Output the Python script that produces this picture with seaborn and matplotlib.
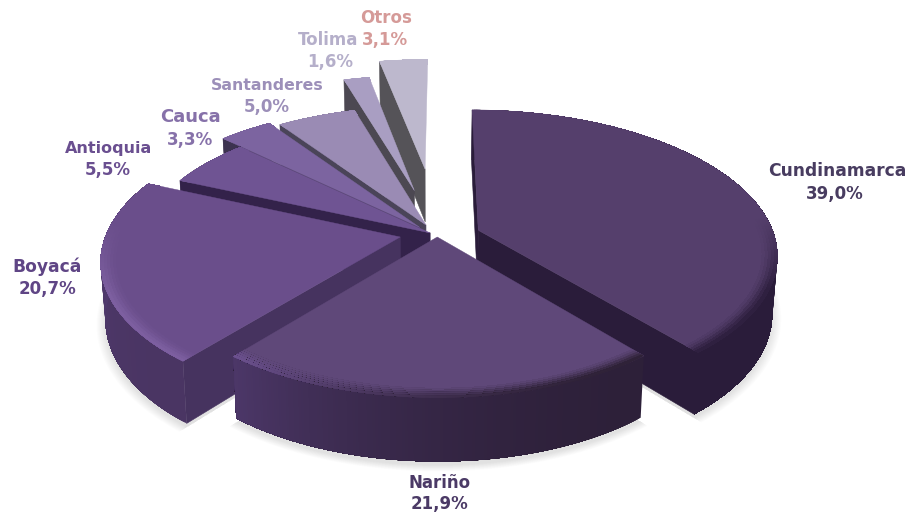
import numpy as np
import matplotlib
matplotlib.use("Agg")
import matplotlib.pyplot as plt
from matplotlib.colors import to_rgb
import seaborn as sns

# Share of each region, in percent, clockwise from twelve o'clock
regions = ["Cundinamarca", "Nariño", "Boyacá", "Antioquia", "Cauca", "Santanderes", "Tolima", "Otros"]
shares = [39.0, 21.9, 20.7, 5.5, 3.3, 5.0, 1.6, 3.1]

top_colors = ["#553f6c", "#5f4879", "#6a4e8b", "#6f5493", "#7c64a0", "#9a8bb4", "#a99ec2", "#bdb8cd"]
side_start = ["#2a1c3a", "#2d2039", "#4a3563", "#33224a", "#3d3350", "#4a4458", "#4c4852", "#555358"]
side_end = ["#2a1c3a", "#4c3768", "#573f7c", "#33224a", "#3d3350", "#4a4458", "#4c4852", "#555358"]
rim_start = ["#2f2040", "#2f2238", "#7d5fa0", "#7f63a5", "#8a73ad", "#a79ac0", "#b5abcc", "#c8c4d6"]
rim_end = ["#2f2040", "#6d5290", "#7d5fa0", "#7f63a5", "#8a73ad", "#a79ac0", "#b5abcc", "#c8c4d6"]
text_colors = ["#483c60", "#4b3a66", "#5f4585", "#6a4f90", "#8671a9", "#9c8fb9", "#b5afca", "#d59a98"]
name_sizes = [12.3, 12, 12.3, 11.5, 13, 11.3, 12, 12]

# Per-wedge offset on the table plane and radius of the wedge
offset_x = [0.16, 0.015, -0.115, -0.01, -0.046, -0.025, -0.069, -0.03]
offset_y = [0.05, 0.0, 0.0, 0.03, 0.07, 0.09, 0.36, 0.54]
radius = [1.04, 1.0, 1.035, 1.025, 1.08, 1.04, 1.09, 1.09]

# Which radial cut faces can be seen: first edge, last edge
cut_faces = [(True, True), (False, False), (True, False), (True, False),
             (True, False), (True, False), (True, False), (True, False)]
# Wedges pointing straight back show no outer wall
has_wall = [True, True, True, True, True, True, False, False]

# Camera used to project the table plane onto the figure, in pixels
CX, CY, SX, SY, PERSP = 433.0, 237.0, 285.0, 136.0, 0.153
DEPTH, DEPTH_PERSP = 57.0, 0.015

# Back-to-front painting order
paint_order = [7, 6, 5, 4, 3, 2, 0, 1]

label_line1 = [(837, 171), (440, 483), (47, 267), (109, 148), (190, 117), (267, 85), (328, 40), (386, 18)]
label_line2 = [(835, 194), (440, 504), (47, 289), (108, 170), (190, 140), (267, 107), (330, 62), (385, 40)]


def project(x, y, z=0.0):
    """Map table coordinates (z=0 top face, z=1 bottom face) to pixels."""
    x, y = np.asarray(x, float), np.asarray(y, float)
    w = (1 + PERSP * y) * (1 + DEPTH_PERSP * z)
    return CX + SX * x / w, CY + (-SY * y + DEPTH * z) / w


def blend(a, b, t):
    a, b = np.array(to_rgb(a)), np.array(to_rgb(b))
    return tuple(a + (b - a) * t)


def arc(i, t, r_scale=1.0):
    r = radius[i] * r_scale
    return offset_x[i] + r * np.sin(t), offset_y[i] + r * np.cos(t)


sns.set_theme(style="white")
plt.rcParams["font.family"] = ["DejaVu Sans"]

fig = plt.figure(figsize=(9.09, 5.15), dpi=100)
ax = fig.add_axes([0, 0, 1, 1])
ax.set_xlim(0, 909)
ax.set_ylim(515, 0)
ax.axis("off")

edges = np.concatenate([[0], np.cumsum(shares)]) * 3.6

# Soft cast shadow below the disc
for k in np.linspace(1.03, 1.0, 10):
    for i in range(3):
        sx_, sy_ = arc(i, np.radians(np.linspace(edges[i], edges[i + 1], 200)), k)
        px, py = project(np.r_[offset_x[i], sx_], np.r_[offset_y[i], sy_], 1.03)
        ax.fill(px, py + 2, color="#000000", alpha=0.01, lw=0, zorder=0)

for rank, i in enumerate(paint_order):
    t0, t1 = edges[i], edges[i + 1]
    zbase = 1 + rank
    n = max(int(t1 - t0) * 2, 8)
    theta = np.radians(np.linspace(t0, t1, n))
    tx, ty = arc(i, theta)

    # Radial cut faces that turn towards the viewer
    for end, visible in zip((0, -1), cut_faces[i]):
        if not visible:
            continue
        cx_ = [offset_x[i], tx[end], tx[end], offset_x[i]]
        cy_ = [offset_y[i], ty[end], ty[end], offset_y[i]]
        px, py = project(cx_, cy_, np.array([0, 0, 1, 1]))
        face = side_start[i] if i != 2 else "#46335f"
        ax.fill(px, py, color=face, lw=0.4, zorder=zbase)

    # Outer wall: each strip runs to the end of the arc, the next paints over it
    if has_wall[i]:
        for j in range(n - 1):
            x0, y0 = project(tx[j:], ty[j:], 0)
            x1, y1 = project(tx[j:][::-1], ty[j:][::-1], 1)
            shade = blend(side_start[i], side_end[i], (j / (n - 2)) ** 2)
            ax.fill(np.r_[x0, x1], np.r_[y0, y1], color=shade, lw=0, zorder=zbase)

    # Top face
    px, py = project(np.r_[offset_x[i], tx], np.r_[offset_y[i], ty])
    ax.fill(px, py, color=top_colors[i], lw=0.3, zorder=zbase + 0.1)

    # Bevel along the rim, fading out towards the back of the disc
    front = np.clip((-np.cos(theta) + 0.1) / 0.5, 0, 1)
    for f0, t in ((0.95, 0.12), (0.96, 0.3), (0.97, 0.55), (0.98, 0.8), (0.99, 1.0)):
        for j in range(n - 1):
            ox, oy = arc(i, theta[j:], 1.0)
            ix, iy = arc(i, theta[j:], f0)
            px, py = project(np.r_[ox, ix[::-1]], np.r_[oy, iy[::-1]])
            rim = blend(rim_start[i], rim_end[i], (j / (n - 2)) ** 2)
            shade = blend(top_colors[i], rim, t * front[j])
            ax.fill(px, py, color=shade, lw=0, zorder=zbase + 0.2)

# Two-line labels: region name above its share
for i, name in enumerate(regions):
    value = f"{shares[i]:.1f}%".replace(".", ",")
    ax.text(*label_line1[i], name, color=text_colors[i], fontsize=name_sizes[i], fontweight="bold",
            ha="center", va="center", zorder=30)
    ax.text(*label_line2[i], value, color=text_colors[i], fontsize=12, fontweight="bold",
            ha="center", va="center", zorder=30)

fig.savefig("out.png", dpi=100, facecolor="white")
